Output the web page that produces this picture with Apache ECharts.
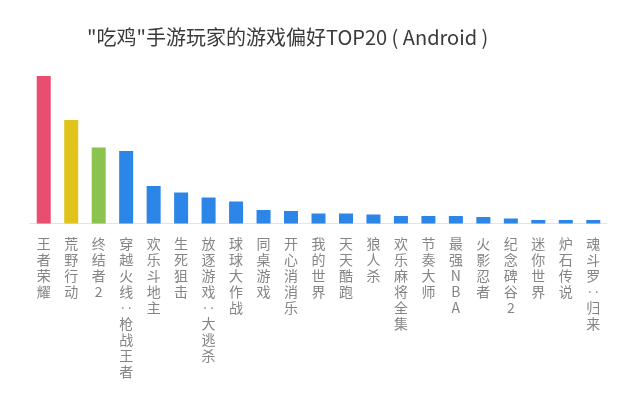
<!DOCTYPE html>
<html>
<head>
<meta charset="utf-8">
<script src="https://cdn.jsdelivr.net/npm/echarts@6/dist/echarts.min.js"></script>
<style>
  html, body { margin: 0; padding: 0; background: #fff; }
  #chart { width: 636px; height: 400px; }
</style>
</head>
<body>
<div id="chart"></div>
<script>
const games = [
  "王者荣耀", "荒野行动", "终结者2", "穿越火线‥枪战王者", "欢乐斗地主",
  "生死狙击", "放逐游戏‥大逃杀", "球球大作战", "同桌游戏", "开心消消乐",
  "我的世界", "天天酷跑", "狼人杀", "欢乐麻将全集", "节奏大师",
  "最强NBA", "火影忍者", "纪念碑谷2", "迷你世界", "炉石传说", "魂斗罗‥归来"
];
// share of players (%)
const share = [
  29.5, 20.7, 15.2, 14.5, 7.5, 6.2, 5.2, 4.4, 2.7, 2.5,
  2.0, 2.0, 1.8, 1.5, 1.5, 1.5, 1.3, 1.0, 0.7, 0.7, 0.7
];
const barColors = ["#e94d6f", "#e0c41c", "#8cc24e"];
const defaultColor = "#2c86e8";

const chart = echarts.init(document.getElementById("chart"));

const option = {
  backgroundColor: "#fff",
  title: {
    text: '"吃鸡"手游玩家的游戏偏好TOP20 ( Android )',
    left: 82,
    top: 22,
    textStyle: {
      fontFamily: "Noto Sans CJK SC",
      fontSize: 20,
      fontWeight: "normal",
      color: "#3a3a3a"
    }
  },
  grid: { left: 30, right: 29, top: 73.5, bottom: 176.5 },
  xAxis: {
    type: "category",
    data: games,
    axisLine: { lineStyle: { color: "#e4e4e4", width: 1 } },
    axisTick: { show: false },
    axisLabel: {
      interval: 0,
      margin: 12,
      color: "#858585",
      fontFamily: "Noto Sans CJK SC",
      fontSize: 14,
      lineHeight: 16,
      formatter: (v) => v.split("").join("\n")
    }
  },
  yAxis: {
    type: "value",
    min: 0,
    max: 30,
    show: false,
    splitLine: { show: false }
  },
  series: [
    {
      type: "bar",
      barWidth: 14,
      data: share.map((v, i) => ({
        value: v,
        itemStyle: { color: barColors[i] || defaultColor }
      }))
    }
  ]
};

chart.setOption(option);
</script>
</body>
</html>
